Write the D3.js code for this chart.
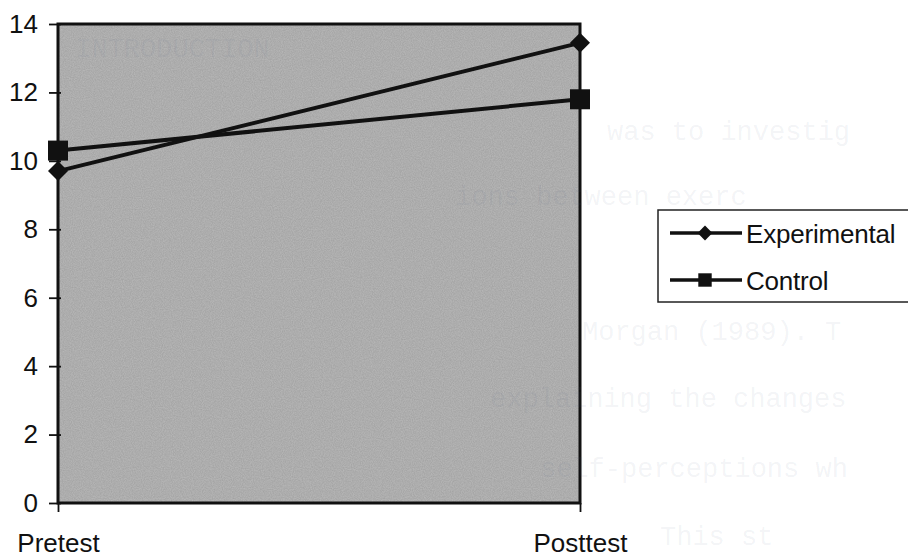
<!DOCTYPE html>
<html>
<head>
<meta charset="utf-8">
<script src="https://cdn.jsdelivr.net/npm/d3@7"></script>
<style>
  body { margin: 0; background: #fff; }
  svg { display: block; }
</style>
</head>
<body>
<div id="chart"></div>
<script>
// data
const phases = ["Pretest", "Posttest"];
const experimental = [9.7, 13.45];
const control = [10.3, 11.8];
const seriesNames = ["Experimental", "Control"];
const yTicks = [0, 2, 4, 6, 8, 10, 12, 14];

// faint text from the reverse page showing through the scan
const bleedLines = [
  [57, 75, "INTRODUCTION"],
  [140, 607, "was to investig"],
  [205, 455, "ions between exerc"],
  [340, 582, "Morgan (1989).  T"],
  [407, 490, "explaining the changes"],
  [477, 540, "self-perceptions wh"],
  [545, 660, "This st"]
];

const W = 908, H = 558;
const margin = {top: 24, right: 328, bottom: 55, left: 58};
const width = W - margin.left - margin.right;
const height = H - margin.top - margin.bottom;

const svg = d3.select("#chart")
    .append("svg")
    .attr("width", W)
    .attr("height", H);

const defs = svg.append("defs");
const noise = defs.append("filter").attr("id", "grain");
noise.append("feTurbulence")
    .attr("type", "fractalNoise")
    .attr("baseFrequency", 0.9)
    .attr("numOctaves", 2)
    .attr("seed", 3);
noise.append("feColorMatrix")
    .attr("type", "matrix")
    .attr("values", "0 0 0 0 0  0 0 0 0 0  0 0 0 0 0  0 0 0 0.14 0");
noise.append("feComposite").attr("in2", "SourceGraphic").attr("operator", "in");

const g = svg.append("g")
    .attr("transform", `translate(${margin.left},${margin.top})`);

const x = d3.scalePoint()
    .domain(phases)
    .range([0, width]);

const y = d3.scaleLinear()
    .domain([0, 14])
    .range([height, 0]);

// plot area
g.append("rect")
    .attr("width", width)
    .attr("height", height)
    .attr("fill", "#bababa");
g.append("rect")
    .attr("width", width)
    .attr("height", height)
    .attr("fill", "#bababa")
    .attr("filter", "url(#grain)");

// bleed-through text
svg.append("g")
    .selectAll("text")
    .data(bleedLines)
    .join("text")
    .attr("x", d => d[1])
    .attr("y", d => d[0])
    .attr("font-family", "Liberation Mono, Courier New, monospace")
    .attr("font-size", 27)
    .attr("fill", "#55658a")
    .attr("fill-opacity", 0.08)
    .text(d => d[2]);

// frame
g.append("rect")
    .attr("width", width)
    .attr("height", height)
    .attr("fill", "none")
    .attr("stroke", "#111")
    .attr("stroke-width", 3);

const yAxis = g.append("g")
    .call(d3.axisLeft(y).tickValues(yTicks).tickSize(9).tickPadding(11));
yAxis.select(".domain").remove();
yAxis.selectAll("line").attr("stroke", "#111").attr("stroke-width", 1.8).attr("x2", -9).attr("x1", 3);
yAxis.selectAll("text")
    .attr("font-family", "Liberation Sans, Arial, sans-serif")
    .attr("font-size", 26)
    .attr("fill", "#111");

const xAxis = g.append("g")
    .attr("transform", `translate(0,${height})`)
    .call(d3.axisBottom(x).tickSize(9).tickPadding(22));
xAxis.select(".domain").remove();
xAxis.selectAll("line").attr("stroke", "#111").attr("stroke-width", 1.8);
xAxis.selectAll("text")
    .attr("font-family", "Liberation Sans, Arial, sans-serif")
    .attr("font-size", 26)
    .attr("fill", "#111");

const line = d3.line()
    .x((d, i) => x(phases[i]))
    .y(d => y(d));

const series = [
  {name: seriesNames[0], values: experimental, symbol: d3.symbolSquare, rot: 45, size: 200, legendSize: 110},
  {name: seriesNames[1], values: control, symbol: d3.symbolSquare, rot: 0, size: 400, legendSize: 180}
];

series.forEach(s => {
  g.append("path")
      .datum(s.values)
      .attr("fill", "none")
      .attr("stroke", "#111")
      .attr("stroke-width", 4)
      .attr("d", line);
  g.selectAll(null)
      .data(s.values)
      .join("path")
      .attr("transform", (d, i) => `translate(${x(phases[i])},${y(d)}) rotate(${s.rot})`)
      .attr("d", d3.symbol().type(s.symbol).size(s.size))
      .attr("fill", "#111");
});

// legend
const legend = svg.append("g").attr("transform", "translate(658,210)");
legend.append("rect")
    .attr("width", 270)
    .attr("height", 92)
    .attr("fill", "#fff")
    .attr("stroke", "#222")
    .attr("stroke-width", 1.5);

series.forEach((s, i) => {
  const row = legend.append("g").attr("transform", `translate(0,${23 + i * 47})`);
  row.append("line")
      .attr("x1", 12).attr("x2", 84)
      .attr("stroke", "#111")
      .attr("stroke-width", 3.5);
  row.append("path")
      .attr("transform", `translate(47,0) rotate(${s.rot})`)
      .attr("d", d3.symbol().type(s.symbol).size(s.legendSize))
      .attr("fill", "#111");
  row.append("text")
      .attr("x", 88)
      .attr("y", 10)
      .attr("font-family", "Liberation Sans, Arial, sans-serif")
      .attr("font-size", 26)
      .attr("letter-spacing", -0.2)
      .attr("fill", "#111")
      .text(s.name);
});
</script>
</body>
</html>
